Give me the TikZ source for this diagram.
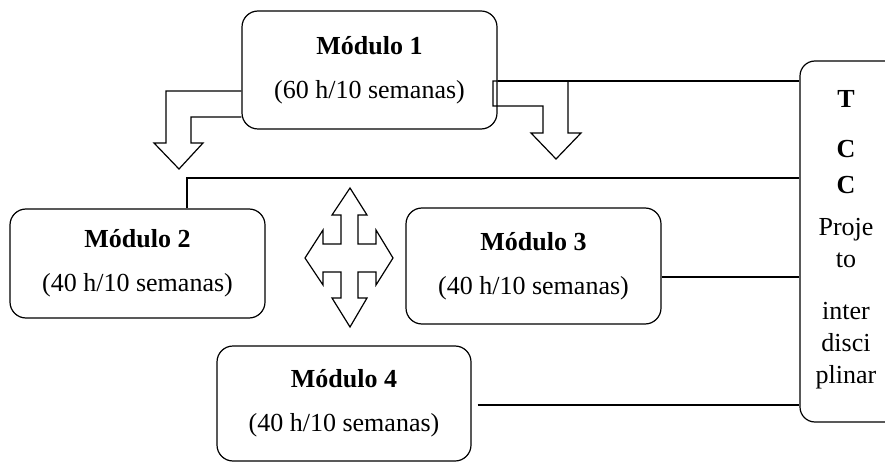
\documentclass[tikz,border=0pt]{standalone}
\usepackage{fontspec}
\setmainfont{Liberation Serif}

\begin{document}
\begin{tikzpicture}[x=1pt,y=-1pt,line width=1.2pt]
\tikzstyle{every node}=[inner sep=0pt, font=\fontsize{26}{44}\selectfont]
\tikzstyle{modulo}=[draw, rounded corners=16pt, align=center, minimum width=255pt]
\tikzstyle{seta}=[line join=miter]
\clip (0,0) rectangle (885,462);
\draw (369.5,70) node (m1) [modulo, minimum height=118pt] {\textbf{Módulo 1}\\(60 h/10 semanas)};
\draw (137.5,263.5) node (m2) [modulo, minimum height=109pt] {\textbf{Módulo 2}\\(40 h/10 semanas)};
\draw (533.5,266) node (m3) [modulo, minimum height=116pt] {\textbf{Módulo 3}\\(40 h/10 semanas)};
\draw (344,403.5) node (m4) [modulo, minimum width=254pt, minimum height=115pt] {\textbf{Módulo 4}\\(40 h/10 semanas)};
\draw (850,241.5) node (tcc) [draw, rounded corners=15pt, minimum width=100pt, minimum height=361pt] {};
\draw (846,89.5) node (tcctxt) [anchor=north, align=center, font=\fontsize{26}{30}\selectfont]
  {\textbf{T}\\[20pt]\textbf{C}\\[6pt]\textbf{C}\\[12pt]Proje\\[2pt]to\\[22pt]inter\\[2pt]disci\\[2pt]plinar};
\coordinate (m4fim) at ([xshift=6pt]m4.east);
% ligacoes ao TCC
\draw (m1.east |- 0,81) -- (tcc.west |- 0,81);
\draw (m2.north -| 187,0) -- (187,178) -- (tcc.west |- 0,178);
\draw (m3.east |- 0,277) -- (tcc.west |- 0,277);
\draw (m4fim |- 0,405) -- (tcc.west |- 0,405);
% setas
\draw [seta] (m1.west |- 0,91) -- (166,91) -- (166,143) -- (154,143) -- (179,169) -- (203,143) -- (191,143) -- (191,117) -- (m1.west |- 0,117);
\draw [seta] (493,81) -- (568,81) -- (568,133) -- (581,133) -- (556,159) -- (531,133) -- (543,133) -- (543,106) -- (493,106) -- cycle;
\draw [seta] (350,188) -- (367,215) -- (358,215) -- (358,244) -- (376,244) -- (376,230) -- (393,258) -- (376,285) -- (376,272) -- (358,272) -- (358,298) -- (367,298) -- (350,327) -- (332,298) -- (341,298) -- (341,272) -- (323,272) -- (323,285) -- (305,258) -- (323,230) -- (323,244) -- (341,244) -- (341,215) -- (332,215) -- cycle;
\end{tikzpicture}
\end{document}
